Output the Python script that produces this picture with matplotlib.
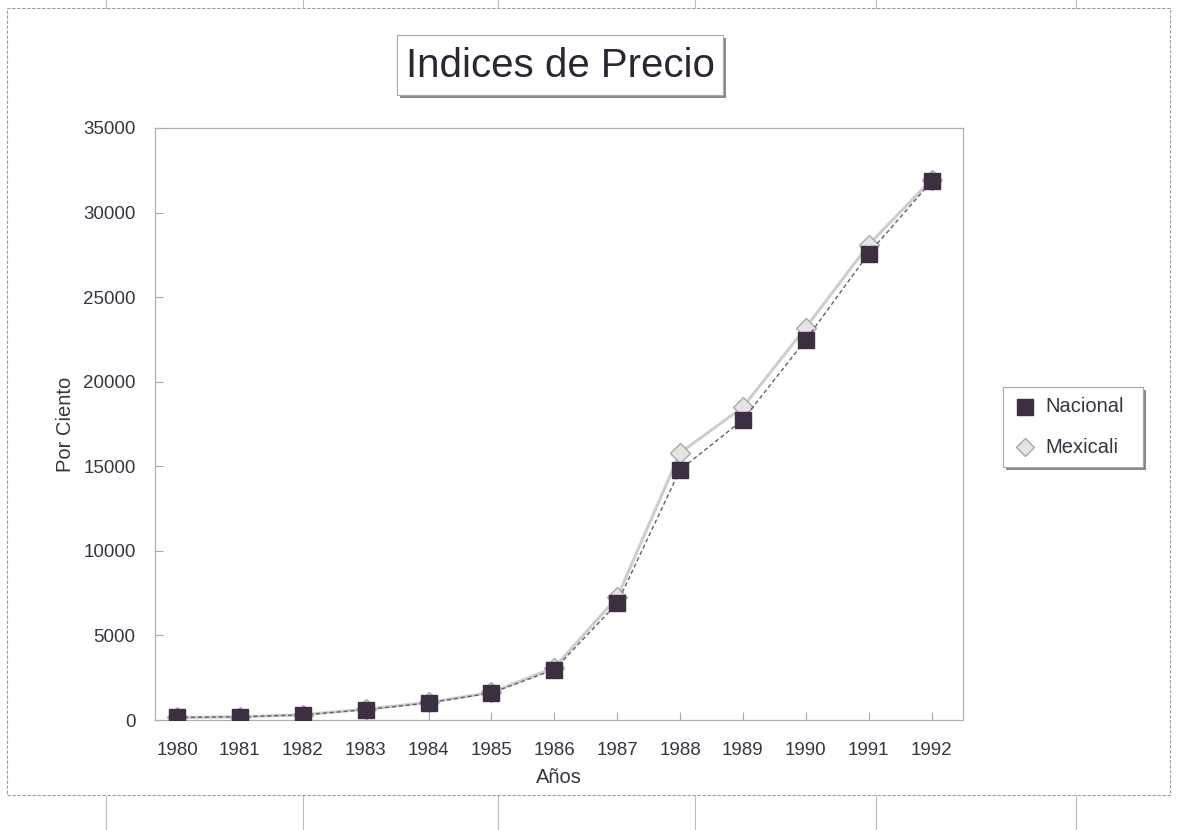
import matplotlib
matplotlib.use("Agg")
import matplotlib.pyplot as plt
from matplotlib.patches import Rectangle
from matplotlib.lines import Line2D

plt.rcParams['font.family'] = ['Liberation Sans', 'DejaVu Sans']

years = ['1980', '1981', '1982', '1983', '1984', '1985', '1986',
         '1987', '1988', '1989', '1990', '1991', '1992']
nacional = [150, 190, 300, 610, 1010, 1600, 2980, 6900, 14790, 17750, 22480, 27580, 31850]
mexicali = [150, 190, 310, 640, 1040, 1630, 3100, 7250, 15790, 18500, 23200, 28100, 31950]
yticks = [0, 5000, 10000, 15000, 20000, 25000, 30000, 35000]
series_names = ['Nacional', 'Mexicali']

TXT = '#3b3342'
W, H = 1184, 830
fig = plt.figure(figsize=(W / 100, H / 100), dpi=100)


def fx(px):
    return px / W


def fy(py):
    return 1 - py / H


def box(x0, y0, x1, y1, **kw):
    fig.add_artist(Rectangle((fx(x0), fy(y1)), fx(x1) - fx(x0), fy(y0) - fy(y1),
                             transform=fig.transFigure, **kw))


# faint spreadsheet cell lines outside the chart
for gx in [106, 303, 498, 695, 876, 1076]:
    fig.add_artist(Line2D([fx(gx), fx(gx)], [fy(0), fy(8)], transform=fig.transFigure,
                          color='#bdbdbd', lw=0.8))
    fig.add_artist(Line2D([fx(gx), fx(gx)], [fy(796), fy(830)], transform=fig.transFigure,
                          color='#bdbdbd', lw=0.8))

# outer chart border
box(7, 8, 1170, 795, fill=False, ec='#9a9a9a', lw=0.8, ls=(0, (3, 1.5)))

ax = fig.add_axes([fx(155), fy(720), fx(963) - fx(155), fy(128) - fy(720)])
x = list(range(len(years)))
ax.plot(x, mexicali, color='#cdcdcd', lw=2.2, ls='-', marker='D', ms=10,
        mfc='#e4e4e4', mec='#a8a8a8', mew=1, zorder=3)
ax.plot(x, nacional, color='#6a5a6e', lw=1.0, ls=(0, (3, 2)), marker='s', ms=11,
        mfc='#3d2f42', mec='#3d2f42', mew=1, zorder=4)

ax.set_xlim(-0.35, len(years) - 0.5)
ax.set_ylim(0, 35000)
ax.set_xticks(x)
ax.set_xticklabels(years)
ax.set_yticks(yticks)
ax.set_yticklabels([str(v) for v in yticks])
ax.tick_params(axis='both', direction='in', length=6, color='#aaaaaa',
               labelsize=13.5, labelcolor=TXT)
ax.tick_params(axis='x', pad=16)
ax.tick_params(axis='y', pad=14)
for s in ax.spines.values():
    s.set_color('#b0b0b0')
    s.set_linewidth(0.9)
ax.set_xlabel('Años', fontsize=14.5, color=TXT, labelpad=6)
ax.set_ylabel('Por Ciento', fontsize=14.5, color=TXT, labelpad=6)

# title with shadowed box
box(400, 38, 726, 98, fc='#8a8a8a', ec='none')
box(397, 35, 723, 95, fc='white', ec='#a8a8a8', lw=0.8)
fig.text(fx(560), fy(66), 'Indices de Precio', fontsize=29, color='#2e2433',
         ha='center', va='center')

# legend with shadowed box
box(1006, 390, 1146, 470, fc='#8a8a8a', ec='none')
box(1003, 387, 1143, 467, fc='white', ec='#a8a8a8', lw=0.8)
leg_y = [407, 447]
fig.add_artist(Line2D([fx(1025)], [fy(leg_y[0])], transform=fig.transFigure,
                      marker='s', ms=11, mfc='#3d2f42', mec='#3d2f42', ls='none'))
fig.add_artist(Line2D([fx(1025)], [fy(leg_y[1])], transform=fig.transFigure,
                      marker='D', ms=9, mfc='#e4e4e4', mec='#a8a8a8', ls='none'))
for name, ly in zip(series_names, leg_y):
    fig.text(fx(1045), fy(ly), name, fontsize=14.5, color=TXT, ha='left', va='center')

fig.savefig('out.png', dpi=100)
